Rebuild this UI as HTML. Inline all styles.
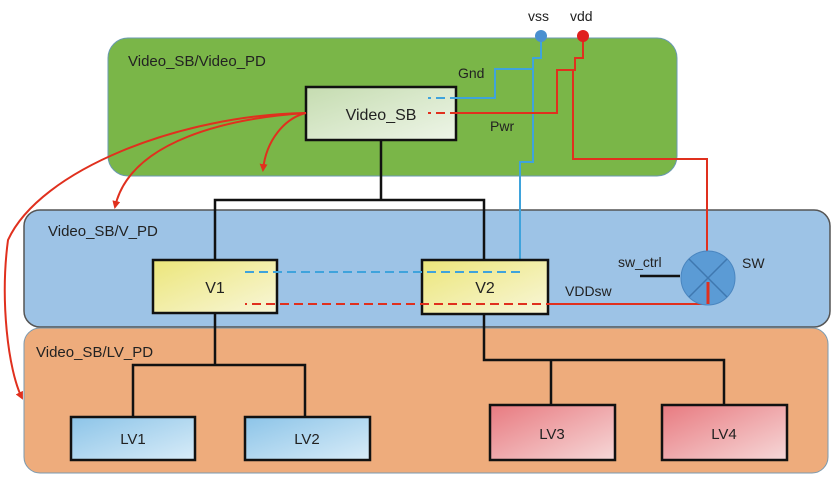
<!DOCTYPE html>
<html><head><meta charset="utf-8"><style>
html,body{margin:0;padding:0;background:#fff;width:835px;height:481px;overflow:hidden}
svg{display:block}
text{font-family:"Liberation Sans",sans-serif;fill:#222}
</style></head><body>
<svg width="835" height="481" viewBox="0 0 835 481" xmlns="http://www.w3.org/2000/svg">
<defs>
<linearGradient id="gsb" x1="0" y1="0" x2="1" y2="1"><stop offset="0" stop-color="#c5dcb0"/><stop offset="1" stop-color="#eef5e8"/></linearGradient>
<linearGradient id="gy" x1="0" y1="0" x2="1" y2="1"><stop offset="0" stop-color="#ece67a"/><stop offset="1" stop-color="#f8f6d8"/></linearGradient>
<linearGradient id="gb" x1="0" y1="0" x2="1" y2="1"><stop offset="0" stop-color="#8cc4e8"/><stop offset="1" stop-color="#d8ecf8"/></linearGradient>
<linearGradient id="gr" x1="0" y1="0" x2="1" y2="1"><stop offset="0" stop-color="#e87a80"/><stop offset="1" stop-color="#f6d8d8"/></linearGradient>
<marker id="ar" markerWidth="8" markerHeight="8" refX="6" refY="4" orient="auto" markerUnits="userSpaceOnUse"><path d="M0,0 L8,4 L0,8 z" fill="#e0301e"/></marker>
</defs>
<rect x="108" y="38" width="569" height="138" rx="20" fill="#7ab648" stroke="#6a9ab0" stroke-width="1"/>
<rect x="24" y="210" width="806" height="117" rx="16" fill="#9dc3e6" stroke="#555" stroke-width="1.5"/>
<rect x="24" y="328" width="804" height="145" rx="16" fill="#eeac7c" stroke="#7a9ab0" stroke-width="1"/>
<text x="128" y="66" font-size="15">Video_SB/Video_PD</text>
<text x="48" y="236" font-size="15">Video_SB/V_PD</text>
<text x="36" y="357" font-size="15">Video_SB/LV_PD</text>
<g stroke="#111" stroke-width="2.5" fill="none">
<path d="M381,140 V200 H215 V260 M381,200 H484 V260"/>
<path d="M215,313 V365 M133,417 V365 H305 V417"/>
<path d="M484,313 V360 H724 V405 M551,360 V405"/>
</g>
<g fill="none" stroke-width="2">
<path d="M541,36 V58 H533 V162 H520 V270" stroke="#3fa3dc"/>
<path d="M533,69 H495 V98 H456" stroke="#3fa3dc"/>
<path d="M583,36 V58 H575 V70 H557 V113 H456" stroke="#e0301e"/>
<path d="M575,70 H573 V159 H707 V300" stroke="#e0301e"/>
<path d="M707,304 H555" stroke="#e0301e"/>
</g>
<circle cx="541" cy="36" r="6" fill="#4a90d0"/>
<circle cx="583" cy="36" r="6" fill="#e0201e"/>
<text x="528" y="21" font-size="14">vss</text>
<text x="570" y="21" font-size="14">vdd</text>
<text x="458" y="78" font-size="14">Gnd</text>
<text x="490" y="131" font-size="14">Pwr</text>
<rect x="306" y="87" width="150" height="53" fill="url(#gsb)" stroke="#111" stroke-width="2.5"/>
<text x="381" y="120" font-size="16" text-anchor="middle">Video_SB</text>
<rect x="153" y="260" width="124" height="53" fill="url(#gy)" stroke="#111" stroke-width="2.5"/>
<text x="215" y="293" font-size="16" text-anchor="middle">V1</text>
<rect x="422" y="260" width="126" height="54" fill="url(#gy)" stroke="#111" stroke-width="2.5"/>
<text x="485" y="293" font-size="16" text-anchor="middle">V2</text>
<g fill="none" stroke-width="2">
<path d="M520,272 H245" stroke="#3fa3dc" stroke-dasharray="9,5"/>
<path d="M459,98 H428" stroke="#3fa3dc" stroke-dasharray="9,5"/>
<path d="M459,113 H428" stroke="#e0301e" stroke-dasharray="9,5"/>
<path d="M555,304 H245" stroke="#e0301e" stroke-dasharray="9,5"/>
</g>
<rect x="71" y="417" width="124" height="43" fill="url(#gb)" stroke="#111" stroke-width="2.5"/>
<text x="133" y="444" font-size="15" text-anchor="middle">LV1</text>
<rect x="245" y="417" width="125" height="43" fill="url(#gb)" stroke="#111" stroke-width="2.5"/>
<text x="307" y="444" font-size="15" text-anchor="middle">LV2</text>
<rect x="490" y="405" width="125" height="55" fill="url(#gr)" stroke="#111" stroke-width="2.5"/>
<text x="552" y="439" font-size="15" text-anchor="middle">LV3</text>
<rect x="662" y="405" width="125" height="55" fill="url(#gr)" stroke="#111" stroke-width="2.5"/>
<text x="724" y="439" font-size="15" text-anchor="middle">LV4</text>
<circle cx="708" cy="278" r="27" fill="#5b9bd5" stroke="#4a86c0" stroke-width="1"/>
<path d="M689,259 L727,297 M727,259 L689,297" stroke="#3f78b0" stroke-width="1.5"/>
<path d="M708,282 V304" stroke="#e0301e" stroke-width="3"/>
<path d="M640,276 H680" stroke="#111" stroke-width="2.5"/>
<text x="618" y="267" font-size="14">sw_ctrl</text>
<text x="742" y="268" font-size="14">SW</text>
<text x="565" y="296" font-size="14">VDDsw</text>
<g fill="none" stroke="#e0301e" stroke-width="2">
<path d="M306,113 C285,118 266,140 263,170" marker-end="url(#ar)"/>
<path d="M306,113 C230,118 130,140 115,207" marker-end="url(#ar)"/>
<path d="M306,113 C180,115 40,170 8,240 C0,300 8,370 22,398" marker-end="url(#ar)"/>
</g>
</svg>
</body></html>
